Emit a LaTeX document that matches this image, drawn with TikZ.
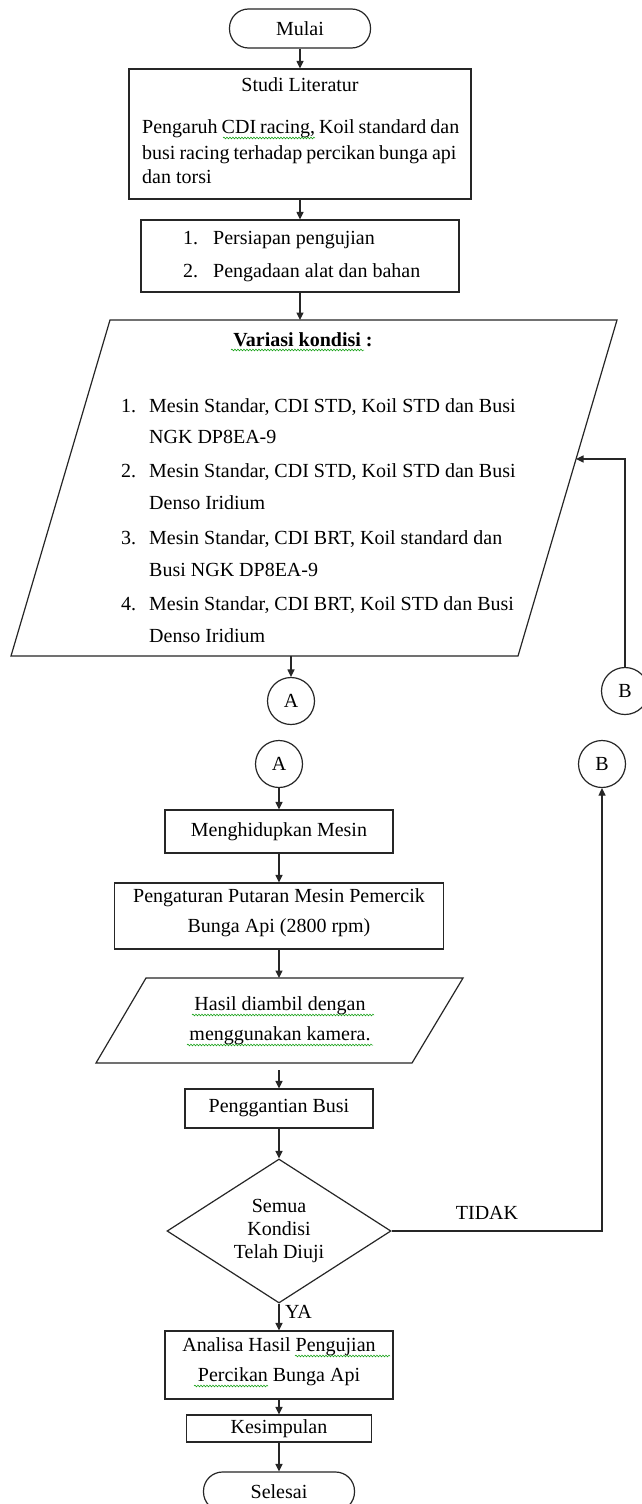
\documentclass[tikz,border=0pt]{standalone}
\usepackage{fontspec}
\setmainfont{Liberation Serif}
\usetikzlibrary{shapes.geometric,arrows.meta,calc,decorations.pathmorphing}
\newcommand\flowfont{\fontsize{20pt}{24pt}\selectfont}
\begin{document}
\begin{tikzpicture}[x=1pt,y=-1pt,
  line/.style={draw=black!85,line width=1.2pt},
  arr/.style={line,-{Triangle[length=7.5pt,width=7pt]}},
  box/.style={line,rectangle,inner sep=0pt,font=\flowfont,align=center},
  term/.style={box,rounded corners=19pt},
  conn/.style={line,circle,inner sep=0pt,minimum size=47pt,font=\flowfont},
  txt/.style={inner sep=0pt,font=\flowfont,text height=14pt,text depth=4pt},
  squig/.style={draw=green!60!black,line width=0.5pt,decorate,decoration={snake,amplitude=0.9pt,segment length=3pt}}
]
\fill[white] (0,0) rectangle (641,1504);
\useasboundingbox (0,0) rectangle (641,1504);

% ---------- top part ----------
\node[term,minimum width=141pt,minimum height=39pt] (mulai) at (300,28.5) {Mulai};

\node[box,minimum width=342pt,minimum height=130pt] (studi) at (300,134) {};
\node[txt] (studiT) at (300,87) {Studi Literatur};
\node[txt,anchor=west] (studi1) at (142,128) {\spaceskip=0.2em Pengaruh CDI racing, Koil standard dan};
\node[txt,anchor=west] (studi2) at (142,154) {\spaceskip=0.2em busi racing terhadap percikan bunga api};
\node[txt,anchor=west] (studi3) at (142,178) {dan torsi};

\node[box,minimum width=318pt,minimum height=72pt] (prep) at (300,256) {};
\node[txt,anchor=west] (prepn1) at (183,239) {1.};
\node[txt,anchor=west] (prep1) at (213,239) {Persiapan pengujian};
\node[txt,anchor=west] (prepn2) at (183,272) {2.};
\node[txt,anchor=west] (prep2) at (213,272) {Pengadaan alat dan bahan};

% parallelogram: variasi kondisi
\draw[line] (110,320) -- (617,320) -- (518,656) -- (11,656) -- cycle;
\coordinate (varTop) at (300,320);
\coordinate (varBot) at (291,656);
\coordinate (varIn) at (576,459);
\node[txt,font=\flowfont\bfseries] (varT) at (303,341) {Variasi kondisi :};
\node[txt,anchor=west] (vn1) at (121,407) {1.};
\node[txt,anchor=west] (v1a) at (149,407) {Mesin Standar, CDI STD, Koil STD dan Busi};
\node[txt,anchor=west] (v1b) at (149,438) {NGK DP8EA-9};
\node[txt,anchor=west] (vn2) at (121,472) {2.};
\node[txt,anchor=west] (v2a) at (149,472) {Mesin Standar, CDI STD, Koil STD dan Busi};
\node[txt,anchor=west] (v2b) at (149,504) {Denso Iridium};
\node[txt,anchor=west] (vn3) at (121,539) {3.};
\node[txt,anchor=west] (v3a) at (149,539) {Mesin Standar, CDI BRT, Koil standard dan};
\node[txt,anchor=west] (v3b) at (149,571) {Busi NGK DP8EA-9};
\node[txt,anchor=west] (vn4) at (121,605) {4.};
\node[txt,anchor=west] (v4a) at (149,605) {Mesin Standar, CDI BRT, Koil STD dan Busi};
\node[txt,anchor=west] (v4b) at (149,637) {Denso Iridium};

\node[conn] (A1) at (291,701) {A};
\node[conn] (B1) at (625,691) {B};

\draw[arr] (mulai.south) -- (studi.north);
\draw[arr] (studi.south) -- (prep.north);
\draw[arr] (prep.south) -- (varTop);
\draw[arr] (varBot) -- (A1.north);
\draw[arr] (B1.north) |- (varIn);

% ---------- bottom part ----------
\node[conn] (A2) at (279,764) {A};
\node[conn] (B2) at (602,764) {B};

\node[box,minimum width=228pt,minimum height=43pt] (men) at (279,831.5) {Menghidupkan Mesin};

\node[box,minimum width=329pt,minimum height=66pt] (peng) at (279,916) {};
\node[txt] (peng1) at (279,897) {Pengaturan Putaran Mesin Pemercik};
\node[txt] (peng2) at (279,927) {Bunga Api (2800 rpm)};

\draw[line] (146,978) -- (463,978) -- (412,1063) -- (96,1063) -- cycle;
\coordinate (hasTop) at (279,978);
\coordinate (hasBot) at (279,1070);
\node[txt] (has1) at (280,1005) {Hasil diambil dengan};
\node[txt] (has2) at (280,1035) {menggunakan kamera.};

\node[box,minimum width=188pt,minimum height=39pt] (ganti) at (279,1108.5) {Penggantian Busi};

\node[line,diamond,minimum width=224pt,minimum height=144pt,inner sep=0pt] (dia) at (279,1231) {};
\node[txt] (dia1) at (279,1207) {Semua};
\node[txt] (dia2) at (279,1230) {Kondisi};
\node[txt] (dia3) at (279,1253) {Telah Diuji};

\node[box,minimum width=228pt,minimum height=68pt] (ana) at (279,1365) {};
\node[txt] (ana1) at (279,1346) {Analisa Hasil Pengujian};
\node[txt] (ana2) at (279,1376) {Percikan Bunga Api};

\node[box,minimum width=185pt,minimum height=27pt] (kes) at (279,1428.5) {Kesimpulan};
\node[term,minimum width=151pt,minimum height=39pt] (sel) at (279,1491.5) {Selesai};

\node[txt] (tidak) at (487,1214) {TIDAK};
\node[txt,anchor=west] (ya) at (285,1313) {YA};

\draw[arr] (A2.south) -- (men.north);
\draw[arr] (men.south) -- (peng.north);
\draw[arr] (peng.south) -- (hasTop);
\draw[arr] (hasBot) -- (ganti.north);
\draw[arr] (ganti.south) -- (dia.north);
\draw[arr] (dia.east) -| (B2.south);
\draw[arr] (dia.south) -- (ana.north);
\draw[arr] (ana.south) -- (kes.north);
\draw[arr] (kes.south) -- (sel.north);

% spell-check marks
\draw[squig] (223,138) -- (315,138);
\draw[squig] (231,350) -- (364,350);
\draw[squig] (192,1015) -- (374,1015);
\draw[squig] (187,1045) -- (373,1045);
\draw[squig] (295,1356) -- (390,1356);
\draw[squig] (194,1386) -- (268,1386);
\end{tikzpicture}
\end{document}
